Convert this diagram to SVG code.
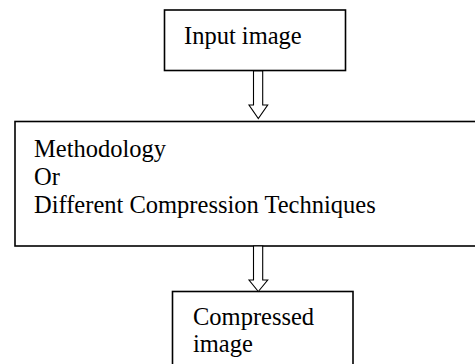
<svg xmlns="http://www.w3.org/2000/svg" width="475" height="364" viewBox="0 0 475 364">
<style>
.box{fill:#fff;stroke:#000;stroke-width:1.6}
.arrow{fill:#fff;stroke:#000;stroke-width:1.1;stroke-linejoin:miter}
.t{font-family:"Liberation Serif","Times New Roman",serif;font-size:24.5px;fill:#000}
</style>
<rect width="475" height="364" fill="#fff"/>
<g id="input">
<rect class="box" x="164.5" y="10" width="181" height="60.5"/>
<text class="t" x="184" y="43.5">Input image</text>
</g>
<g id="methodology">
<rect class="box" x="15" y="121.5" width="470" height="124.5"/>
<text class="t" x="34" y="156.5">Methodology</text>
<text class="t" x="34" y="184.5">Or</text>
<text class="t" x="34" y="212.5">Different Compression Techniques</text>
</g>
<g id="compressed">
<rect class="box" x="172.5" y="291.5" width="180.5" height="90"/>
<text class="t" x="193" y="325">Compressed</text>
<text class="t" x="193" y="352">image</text>
</g>
<g id="connectors">
<path class="arrow" d="M253.5,71 V105 H249 L258.3,118.5 L267.7,105 H262.7 V71 Z"/>
<path class="arrow" d="M253.5,246 V280 H249 L258.3,291.5 L267.7,280 H262.7 V246 Z"/>
</g>
</svg>
